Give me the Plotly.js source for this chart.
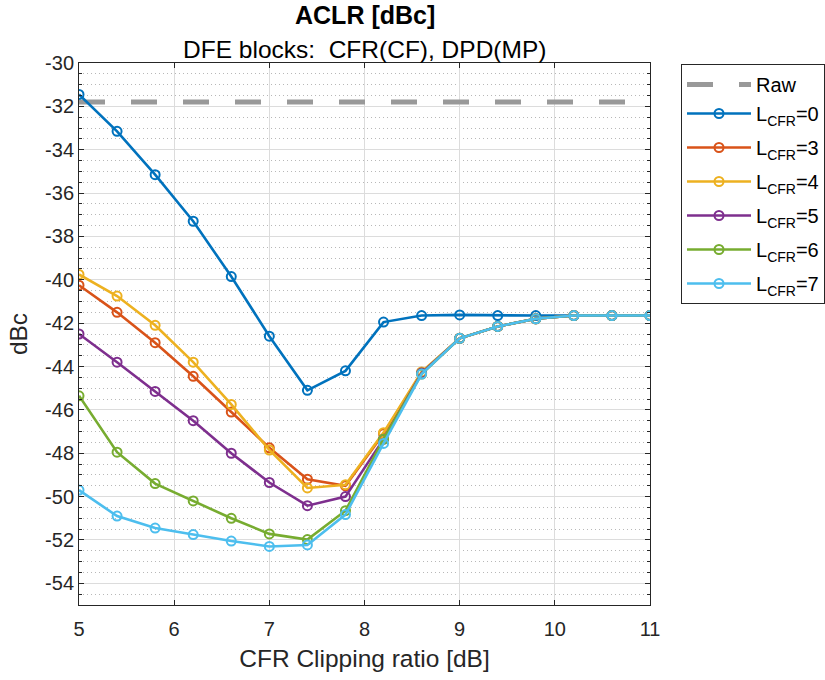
<!DOCTYPE html>
<html>
<head>
<meta charset="utf-8">
<script src="https://cdn.plot.ly/plotly-3.0.1.min.js"></script>
<style>html,body{margin:0;padding:0;background:#fff;}#chart{width:825px;height:680px;}</style>
</head>
<body>
<div id="chart"></div>
<script>
const clipRatio = [5.0, 5.4, 5.8, 6.2, 6.6, 7.0, 7.4, 7.8, 8.2, 8.6, 9.0, 9.4, 9.8, 10.2, 10.6, 11.0];
const rawX = [5, 11];
const rawY = [-31.8, -31.8];
const L0 = [-31.45, -33.15, -35.15, -37.3, -39.85, -42.6, -45.1, -44.2, -41.95, -41.65, -41.62, -41.65, -41.65, -41.65, -41.65, -41.65];
const L3 = [-40.25, -41.5, -42.9, -44.45, -46.1, -47.75, -49.2, -49.5, -47.1, -44.3, -42.7, -42.15, -41.8, -41.65, -41.65, -41.65];
const L4 = [-39.75, -40.75, -42.1, -43.8, -45.75, -47.85, -49.6, -49.45, -47.05, -44.25, -42.7, -42.15, -41.8, -41.65, -41.65, -41.65];
const L5 = [-42.5, -43.8, -45.15, -46.5, -48.0, -49.35, -50.42, -50.0, -47.35, -44.3, -42.7, -42.15, -41.8, -41.65, -41.65, -41.65];
const L6 = [-45.35, -47.95, -49.4, -50.2, -51.0, -51.72, -51.98, -50.65, -47.35, -44.35, -42.7, -42.15, -41.8, -41.65, -41.65, -41.65];
const L7 = [-49.7, -50.9, -51.45, -51.75, -52.05, -52.3, -52.23, -50.83, -47.55, -44.35, -42.7, -42.15, -41.8, -41.65, -41.65, -41.65];
const seriesNames = ['L<sub>CFR</sub>=0', 'L<sub>CFR</sub>=3', 'L<sub>CFR</sub>=4', 'L<sub>CFR</sub>=5', 'L<sub>CFR</sub>=6', 'L<sub>CFR</sub>=7'];
const seriesData = [L0, L3, L4, L5, L6, L7];
const colors = ['#0072BD', '#D95319', '#EDB120', '#7E2F8E', '#77AC30', '#4DBEEE'];
const yTickVals = [-54, -52, -50, -48, -46, -44, -42, -40, -38, -36, -34, -32, -30];
const yTickText = ['-54', '-52', '-50', '-48', '-46', '-44', '-42', '-40', '-38', '-36', '-34', '-32', '-30'];
const xTickVals = [5, 6, 7, 8, 9, 10, 11];
const xTickText = ['5', '6', '7', '8', '9', '10', '11'];

const traces = [{
  x: rawX, y: rawY, name: 'Raw', mode: 'lines', type: 'scatter', legendgroup: 'g1',
  line: {color: '#999999', width: 5, dash: '26px,26px'}
}];
seriesData.forEach((s, i) => {
  traces.push({
    x: clipRatio, y: s, name: seriesNames[i], mode: 'lines+markers', type: 'scatter',
    legendgroup: 'g' + (i + 1),
    line: {color: colors[i], width: 2.6},
    marker: {symbol: 'circle-open', size: 9, color: colors[i], line: {width: 2, color: colors[i]}}
  });
});

const font = "'Liberation Sans', Arial, Helvetica, sans-serif";
const axisCol = '#262626';
const layout = {
  width: 825, height: 680,
  margin: {l: 79, r: 175, t: 63, b: 75, pad: 0},
  paper_bgcolor: '#fff', plot_bgcolor: '#fff',
  font: {family: font, color: axisCol, size: 20},
  showlegend: true,
  legend: {
    xref: 'container', yref: 'container',
    x: 681 / 825, y: 1 - 64 / 680, xanchor: 'left', yanchor: 'top',
    bordercolor: axisCol, borderwidth: 1, bgcolor: '#fff',
    font: {family: font, size: 20, color: '#000'},
    tracegroupgap: 5, itemwidth: 64
  },
  xaxis: {
    range: [5, 11], tickmode: 'array', tickvals: xTickVals, ticktext: xTickText,
    showline: true, linecolor: axisCol, linewidth: 1, mirror: 'ticks',
    ticks: 'inside', ticklen: 5, tickcolor: axisCol, ticklabelstandoff: 6,
    showgrid: true, gridcolor: '#dcdcdc', gridwidth: 1, zeroline: false,
    tickfont: {size: 20, color: axisCol},
    title: {text: 'CFR Clipping ratio [dB]', font: {size: 24.5, color: axisCol}, standoff: 10}
  },
  yaxis: {
    range: [-55, -30], tickmode: 'array', tickvals: yTickVals, ticktext: yTickText,
    showline: true, linecolor: axisCol, linewidth: 1, mirror: 'ticks',
    ticks: 'inside', ticklen: 5, tickcolor: axisCol,
    showgrid: true, gridcolor: '#dcdcdc', gridwidth: 1, zeroline: false,
    tickfont: {size: 20, color: axisCol},
    minor: {dtick: 0.5, tick0: -30, showgrid: true, griddash: '1px,3px', gridcolor: '#b8b8b8', gridwidth: 1, ticks: 'inside', ticklen: 3, tickcolor: axisCol},
    title: {text: 'dBc', font: {size: 24.5, color: axisCol}, standoff: 10}
  },
  annotations: [
    {text: '<b>ACLR [dBc]</b>', xref: 'paper', yref: 'paper', x: 0.5, y: 1.0886, xanchor: 'center', yanchor: 'middle', showarrow: false, font: {size: 25, color: '#000', family: font}},
    {text: 'DFE blocks:\u00A0 CFR(CF), DPD(MP)', xref: 'paper', yref: 'paper', x: 0.5, y: 1.0258, xanchor: 'center', yanchor: 'middle', showarrow: false, font: {size: 24.5, color: '#000', family: font}}
  ]
};
Plotly.newPlot('chart', traces, layout, {displayModeBar: false, staticPlot: true});
</script>
</body>
</html>
